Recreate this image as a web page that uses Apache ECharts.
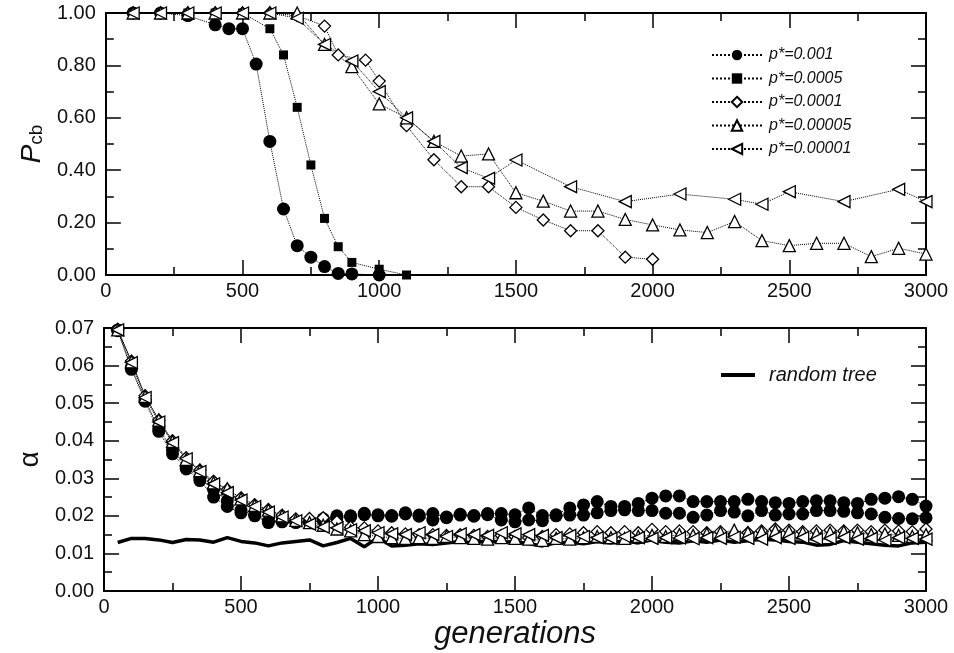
<!DOCTYPE html>
<html>
<head>
<meta charset="utf-8">
<script src="https://cdn.jsdelivr.net/npm/echarts@6/dist/echarts.min.js"></script>
<style>
  html, body { margin: 0; padding: 0; background: #fff; }
  #main { width: 954px; height: 653px; }
</style>
</head>
<body>
<div id="main"></div>
<script>
    // top panel: P_cb against generations, one pair of arrays per p*
    var seriesNames = ['p*=0.001', 'p*=0.0005', 'p*=0.0001', 'p*=0.00005', 'p*=0.00001'];

    var xCirc = [100, 200, 300, 400, 450, 500, 550, 600, 650, 700, 750, 800, 850, 900, 1000];
    var yCirc = [1.00, 1.00, 0.99, 0.955, 0.94, 0.94, 0.805, 0.51, 0.252, 0.112, 0.068, 0.032, 0.006, 0.004, 0.0];

    var xSq = [100, 200, 300, 400, 500, 600, 650, 700, 750, 800, 850, 900, 1000, 1100];
    var ySq = [1.00, 1.00, 1.00, 1.00, 1.00, 0.94, 0.84, 0.64, 0.42, 0.216, 0.108, 0.048, 0.022, 0.0];

    var xDia = [100, 200, 300, 400, 500, 600, 700, 800, 850, 950, 1000, 1100, 1200, 1300, 1400, 1500, 1600, 1700, 1800, 1900, 2000];
    var yDia = [1.00, 1.00, 1.00, 1.00, 1.00, 1.00, 0.99, 0.95, 0.84, 0.82, 0.74, 0.57, 0.44, 0.337, 0.337, 0.258, 0.21, 0.169, 0.169, 0.068, 0.06];

    var xTri = [100, 200, 300, 400, 500, 600, 700, 800, 900, 1000, 1100, 1200, 1300, 1400, 1500, 1600, 1700, 1800, 1900, 2000,
                2100, 2200, 2300, 2400, 2500, 2600, 2700, 2800, 2900, 3000];
    var yTri = [1.00, 1.00, 1.00, 1.00, 1.00, 1.00, 1.00, 0.88, 0.795, 0.653, 0.60, 0.51, 0.454, 0.462, 0.314, 0.282, 0.244, 0.244, 0.212, 0.191,
                0.172, 0.162, 0.204, 0.131, 0.112, 0.121, 0.121, 0.07, 0.102, 0.08];

    var xLtri = [100, 200, 300, 400, 500, 600, 700, 800, 900, 1000, 1100, 1200, 1300, 1400, 1500, 1700, 1900, 2100, 2300, 2400, 2500, 2700, 2900, 3000];
    var yLtri = [1.00, 1.00, 1.00, 1.00, 1.00, 1.00, 0.98, 0.88, 0.817, 0.70, 0.60, 0.51, 0.41, 0.369, 0.439, 0.337, 0.28, 0.309, 0.289, 0.27, 0.318, 0.28, 0.327, 0.28];

    // bottom panel: alpha, sampled every 50 generations
    var gens = [50, 100, 150, 200, 250, 300, 350, 400, 450, 500, 550, 600, 650, 700, 750, 800, 850, 900, 950, 1000,
                1050, 1100, 1150, 1200, 1250, 1300, 1350, 1400, 1450, 1500, 1550, 1600, 1650, 1700, 1750, 1800, 1850, 1900, 1950, 2000,
                2050, 2100, 2150, 2200, 2250, 2300, 2350, 2400, 2450, 2500, 2550, 2600, 2650, 2700, 2750, 2800, 2850, 2900, 2950, 3000];

    var aCircUp = [0.0695, 0.0595, 0.0510, 0.0432, 0.0375, 0.0330, 0.0300, 0.0270, 0.0240, 0.0215, 0.0203, 0.0186, 0.0187, 0.0185, 0.0185, 0.0192, 0.0200, 0.0200, 0.0207, 0.0203,
                   0.0201, 0.0208, 0.0202, 0.0206, 0.0197, 0.0204, 0.0201, 0.0206, 0.0206, 0.0203, 0.0221, 0.0201, 0.0203, 0.0221, 0.0229, 0.0238, 0.0225, 0.0225, 0.0233, 0.0247,
                   0.0253, 0.0253, 0.0238, 0.0238, 0.0238, 0.0238, 0.0244, 0.0238, 0.0235, 0.0233, 0.0238, 0.0240, 0.0240, 0.0235, 0.0233, 0.0244, 0.0247, 0.0251, 0.0244, 0.0226];
    var aCircLo = [0.0693, 0.0590, 0.0505, 0.0425, 0.0365, 0.0325, 0.0294, 0.0250, 0.0225, 0.0208, 0.0200, 0.0182, 0.0184, 0.0182, 0.0182, 0.0188, 0.0196, 0.0197, 0.0203, 0.0200,
                   0.0199, 0.0205, 0.0199, 0.0189, 0.0195, 0.0202, 0.0199, 0.0203, 0.0189, 0.0184, 0.0189, 0.0187, 0.0200, 0.0202, 0.0202, 0.0208, 0.0214, 0.0216, 0.0214, 0.0214,
                   0.0207, 0.0207, 0.0196, 0.0202, 0.0214, 0.0210, 0.0200, 0.0214, 0.0202, 0.0205, 0.0205, 0.0214, 0.0214, 0.0212, 0.0208, 0.0205, 0.0196, 0.0193, 0.0192, 0.0195];
    var aDia = [0.0697, 0.0612, 0.0520, 0.0455, 0.0400, 0.0355, 0.0322, 0.0292, 0.0270, 0.0248, 0.0230, 0.0217, 0.0202, 0.0192, 0.0193, 0.0195, 0.0185, 0.0170, 0.0168, 0.0160,
                0.0155, 0.0152, 0.0150, 0.0150, 0.0148, 0.0150, 0.0148, 0.0145, 0.0148, 0.0145, 0.0142, 0.0145, 0.0150, 0.0152, 0.0155, 0.0158, 0.0155, 0.0158, 0.0155, 0.0164,
                0.0158, 0.0160, 0.0158, 0.0155, 0.0158, 0.0152, 0.0155, 0.0160, 0.0165, 0.0162, 0.0158, 0.0160, 0.0162, 0.0160, 0.0162, 0.0158, 0.0162, 0.0160, 0.0158, 0.0165];
    var aTri = [0.0695, 0.0610, 0.0518, 0.0455, 0.0398, 0.0350, 0.0320, 0.0288, 0.0272, 0.0245, 0.0228, 0.0215, 0.0200, 0.0188, 0.0182, 0.0175, 0.0165, 0.0160, 0.0150, 0.0145,
                0.0142, 0.0140, 0.0142, 0.0140, 0.0145, 0.0142, 0.0140, 0.0138, 0.0142, 0.0140, 0.0138, 0.0135, 0.0140, 0.0138, 0.0142, 0.0145, 0.0142, 0.0140, 0.0145, 0.0148,
                0.0145, 0.0150, 0.0148, 0.0152, 0.0155, 0.0162, 0.0155, 0.0158, 0.0160, 0.0158, 0.0155, 0.0152, 0.0155, 0.0158, 0.0155, 0.0150, 0.0152, 0.0148, 0.0145, 0.0150];
    var aLtri = [0.0695, 0.0608, 0.0515, 0.0450, 0.0395, 0.0352, 0.0318, 0.0285, 0.0262, 0.0242, 0.0225, 0.0210, 0.0197, 0.0187, 0.0178, 0.0170, 0.0168, 0.0163, 0.0160, 0.0155,
                 0.0152, 0.0150, 0.0155, 0.0150, 0.0145, 0.0152, 0.0150, 0.0148, 0.0155, 0.0152, 0.0150, 0.0148, 0.0142, 0.0148, 0.0145, 0.0142, 0.0140, 0.0145, 0.0142, 0.0140,
                 0.0142, 0.0141, 0.0139, 0.0142, 0.0140, 0.0143, 0.0140, 0.0138, 0.0142, 0.0140, 0.0142, 0.0138, 0.0140, 0.0142, 0.0138, 0.0140, 0.0135, 0.0142, 0.0140, 0.0138];
    var aRandom = [0.0129, 0.0140, 0.0140, 0.0136, 0.0129, 0.0137, 0.0136, 0.0130, 0.0142, 0.0132, 0.0128, 0.0120, 0.0128, 0.0132, 0.0136, 0.0120, 0.0129, 0.0140, 0.0118, 0.0142,
                   0.0120, 0.0122, 0.0126, 0.0124, 0.0128, 0.0132, 0.0128, 0.0134, 0.0130, 0.0132, 0.0126, 0.0120, 0.0128, 0.0130, 0.0126, 0.0132, 0.0128, 0.0134, 0.0128, 0.0136,
                   0.0130, 0.0128, 0.0134, 0.0130, 0.0136, 0.0130, 0.0134, 0.0138, 0.0136, 0.0132, 0.0130, 0.0122, 0.0124, 0.0134, 0.0130, 0.0126, 0.0122, 0.0120, 0.0128, 0.0130];

    var FONT = '"Liberation Sans", Arial, Helvetica, sans-serif';
    var INK = '#111';

    function zip(xs, ys) {
        var out = [];
        for (var i = 0; i < xs.length; i++) out.push([xs[i], ys[i]]);
        return out;
    }

    function xAx(grid, pos, withLabels) {
        return {
            type: 'value', gridIndex: grid, position: pos,
            min: 0, max: 3000, interval: 500,
            axisLine: { onZero: false, lineStyle: { color: '#000', width: 2 } },
            axisTick: { inside: true, length: 15, lineStyle: { color: '#000', width: 1.5 } },
            minorTick: { show: true, splitNumber: 2, length: 8, lineStyle: { color: '#000', width: 1.5 } },
            splitLine: { show: false },
            axisLabel: {
                show: withLabels, color: INK, fontSize: 20, fontFamily: FONT, margin: 6,
                formatter: function (v) { return String(v); }
            }
        };
    }

    function yAx(grid, pos, max, step, withLabels) {
        return {
            type: 'value', gridIndex: grid, position: pos,
            min: 0, max: max, interval: step,
            axisLine: { show: true, onZero: false, lineStyle: { color: '#000', width: 2 } },
            axisTick: { show: true, inside: true, length: 15, lineStyle: { color: '#000', width: 1.5 } },
            minorTick: { show: true, splitNumber: 2, length: 8, lineStyle: { color: '#000', width: 1.5 } },
            splitLine: { show: false },
            axisLabel: {
                show: withLabels, color: INK, fontSize: 20, fontFamily: FONT, margin: 10,
                formatter: function (v) { return v.toFixed(2); }
            }
        };
    }

    var xAxes = [xAx(0, 'bottom', true), xAx(0, 'top', false), xAx(1, 'bottom', true), xAx(1, 'top', false)];
    xAxes[2].name = 'generations';
    xAxes[2].nameLocation = 'middle';
    xAxes[2].nameGap = 28;
    xAxes[2].nameTextStyle = { fontSize: 31, fontStyle: 'italic', fontFamily: FONT, color: INK };

    var yAxes = [yAx(0, 'left', 1, 0.2, true), yAx(0, 'right', 1, 0.2, false),
                 yAx(1, 'left', 0.07, 0.01, true), yAx(1, 'right', 0.07, 0.01, false)];
    yAxes[0].name = '{p|P}{s|cb}';
    yAxes[0].nameLocation = 'middle';
    yAxes[0].nameGap = 56;
    yAxes[0].nameTextStyle = {
        color: INK, fontFamily: FONT,
        rich: {
            p: { fontSize: 28, fontStyle: 'italic', fontFamily: FONT, color: INK, lineHeight: 28, verticalAlign: 'top' },
            s: { fontSize: 19, fontFamily: FONT, color: INK, lineHeight: 19, verticalAlign: 'bottom', padding: [19, 0, 0, 0] }
        }
    };
    yAxes[2].name = 'α';
    yAxes[2].nameLocation = 'middle';
    yAxes[2].nameGap = 58;
    yAxes[2].nameTextStyle = { fontSize: 28, fontFamily: FONT, color: INK };

    var dotted = { color: '#000', width: 1, type: 'dotted' };
    var solidMark = { color: '#000' };
    var openMark = { color: '#fff', borderColor: '#000', borderWidth: 1.3 };

    function topSeries(name, data, symbol, size, style, rotate) {
        return {
            name: name, type: 'line', xAxisIndex: 0, yAxisIndex: 0,
            data: data, symbol: symbol, symbolSize: size, symbolRotate: rotate || 0,
            showAllSymbol: true, lineStyle: dotted, itemStyle: style
        };
    }

    function botSeries(name, data, symbol, size, style, rotate) {
        return {
            name: name, type: 'line', xAxisIndex: 2, yAxisIndex: 2,
            data: zip(gens, data), symbol: symbol, symbolSize: size, symbolRotate: rotate || 0,
            showAllSymbol: true, lineStyle: dotted, itemStyle: style
        };
    }

    var option = {
        animation: false,
        backgroundColor: '#fff',
        textStyle: { fontFamily: FONT },
        grid: [
            { left: 104, right: 28, top: 13, height: 262 },
            { left: 104, right: 28, top: 328, height: 263 }
        ],
        legend: [{
            data: seriesNames,
            orient: 'vertical', left: 706, top: 42,
            itemWidth: 50, itemHeight: 13, itemGap: 7.5,
            textStyle: { fontSize: 16, fontStyle: 'italic', fontFamily: FONT, color: INK, padding: [0, 0, 0, 2] }
        }, {
            data: [{ name: 'random tree', icon: 'rect' }],
            left: 716, top: 360,
            itemWidth: 34, itemHeight: 4,
            textStyle: { fontSize: 20, fontStyle: 'italic', fontFamily: FONT, color: INK, padding: [0, 0, 0, 9] }
        }],
        xAxis: xAxes,
        yAxis: yAxes,
        series: [
            topSeries(seriesNames[0], zip(xCirc, yCirc), 'circle', 13, solidMark),
            topSeries(seriesNames[1], zip(xSq, ySq), 'rect', 9, solidMark),
            topSeries(seriesNames[2], zip(xDia, yDia), 'diamond', 12, openMark),
            topSeries(seriesNames[3], zip(xTri, yTri), 'triangle', 12, openMark),
            topSeries(seriesNames[4], zip(xLtri, yLtri), 'triangle', 12, openMark, 90),

            botSeries(seriesNames[0], aCircUp, 'circle', 13, solidMark),
            botSeries(seriesNames[0], aCircLo, 'circle', 13, solidMark),
            botSeries(seriesNames[2], aDia, 'diamond', 12, openMark),
            botSeries(seriesNames[3], aTri, 'triangle', 12, openMark),
            botSeries(seriesNames[4], aLtri, 'triangle', 12, openMark, 90),
            {
                name: 'random tree', type: 'line', xAxisIndex: 2, yAxisIndex: 2,
                data: zip(gens, aRandom), symbol: 'none',
                lineStyle: { color: '#000', width: 3.5 }, itemStyle: { color: '#000' }, z: 3
            }
        ]
    };

    var myChart = echarts.init(document.getElementById('main'));
    myChart.setOption(option);
</script>
</body>
</html>
